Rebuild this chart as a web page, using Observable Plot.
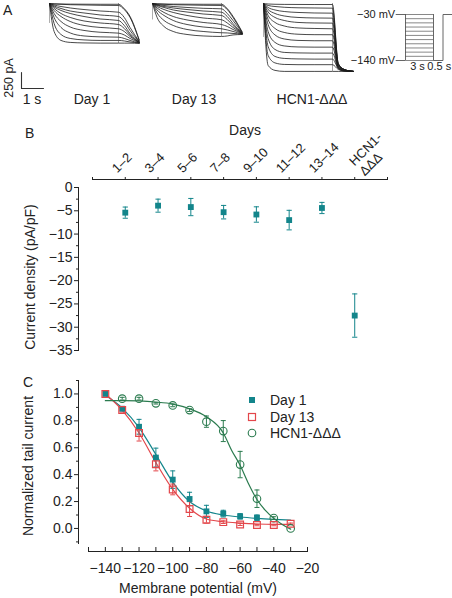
<!DOCTYPE html>
<html><head><meta charset="utf-8">
<script src="https://cdn.jsdelivr.net/npm/d3@7"></script>
<script src="https://cdn.jsdelivr.net/npm/@observablehq/plot@0.6"></script>
<style>
body{margin:0;background:#fff;}
#fig{position:relative;width:452px;height:598px;overflow:hidden;font-family:"Liberation Sans",Arial,Helvetica,sans-serif;}
</style></head><body><div id="fig"></div>
<script>
// ---------------- Panel A: current traces (pA) sampled at traceTimes (s) ----------------
const traceTimes = [0, 0.2, 0.5, 0.9, 1.5, 2.2, 3.0, 3.25, 3.5, 3.9];
const day1Traces = [
  [0,-5,-8,-10,-11,-12,-12,-80,-200,-570],
  [0,-8,-12,-19,-23,-28,-31,-94,-218,-577],
  [0,-23,-47,-70,-94,-117,-136,-218,-374,-593],
  [0,-39,-78,-117,-148,-179,-203,-281,-421,-593],
  [0,-55,-109,-156,-203,-242,-265,-343,-468,-601],
  [0,-78,-156,-218,-273,-304,-328,-390,-491,-608],
  [0,-109,-203,-281,-343,-374,-395,-437,-515,-608],
  [0,-156,-281,-367,-421,-449,-463,-491,-546,-608],
  [0,-218,-374,-460,-507,-521,-526,-546,-577,-616],
  [0,-312,-484,-546,-569,-577,-577,-585,-601,-616],
  [0,-437,-577,-608,-616,-619,-619,-619,-619,-624]
];
const day13Traces = [
  [0,-5,-8,-10,-11,-12,-12,-80,-200,-445],
  [0,-8,-12,-19,-23,-28,-31,-94,-218,-452],
  [0,-16,-31,-47,-62,-75,-83,-156,-265,-460],
  [0,-23,-47,-70,-94,-117,-136,-203,-312,-468],
  [0,-31,-62,-101,-133,-164,-187,-250,-343,-468],
  [0,-47,-94,-140,-187,-226,-254,-304,-374,-468],
  [0,-70,-140,-203,-257,-296,-328,-359,-406,-468],
  [0,-101,-187,-265,-328,-367,-395,-413,-437,-476],
  [0,-148,-265,-343,-406,-437,-457,-460,-468,-476],
  [0,-218,-359,-437,-484,-507,-515,-507,-491,-484]
];
const hcnTraces = [
  [0,-8,-12,-14,-15,-16,-16,-936,-1030,-1061],
  [0,-31,-47,-59,-67,-70,-73,-936,-1030,-1061],
  [0,-62,-101,-125,-140,-148,-151,-952,-1030,-1061],
  [0,-94,-156,-195,-218,-226,-229,-952,-1030,-1061],
  [0,-133,-218,-265,-296,-304,-307,-967,-1030,-1061],
  [0,-187,-296,-351,-382,-390,-395,-983,-1037,-1061],
  [0,-250,-390,-452,-480,-487,-488,-983,-1045,-1061],
  [0,-328,-491,-554,-577,-582,-582,-998,-1045,-1061],
  [0,-437,-608,-663,-679,-682,-682,-998,-1045,-1061],
  [0,-546,-718,-764,-772,-775,-775,-1014,-1053,-1061],
  [0,-671,-827,-858,-866,-869,-869,-1014,-1053,-1061],
  [0,-811,-928,-952,-956,-956,-956,-1030,-1053,-1061],
  [0,-967,-1045,-1061,-1061,-1061,-1061,-1061,-1061,-1061]
];
const traceLabels = ["Day 1", "Day 13", "HCN1-ΔΔΔ"];
const scaleBarCurrent = 250;   // pA
const scaleBarTime = 1;        // s
// voltage protocol
const protocolLevels = [-30,-40,-50,-60,-70,-80,-90,-100,-110,-120,-130,-140];
const holdingPotential = -30, tailPotential = -140;
const stepDuration = 3, tailDuration = 0.5, protocolLead = 1, protocolTrail = 0.5;

// ---------------- Panel B: current density ----------------
const dayGroups = ["1–2","3–4","5–6","7–8","9–10","11–12","13–14","HCN1-\nΔΔΔ"];
const densityMean = [-5.4,-3.9,-4.2,-5.3,-5.8,-7.0,-4.4,-27.5];
const densitySem  = [1.2,1.4,1.85,1.45,1.65,2.1,1.2,4.65];
const densityTicks = [0,-5,-10,-15,-20,-25,-30,-35];
const densityMinorTicks = [-2.5,-7.5,-12.5,-17.5,-22.5,-27.5,-32.5];

// ---------------- Panel C: activation curves ----------------
const membranePotentials = [-140,-130,-120,-110,-100,-90,-80,-70,-60,-50,-40,-30];
const day1Tail  = [1.0,0.89,0.756,0.527,0.363,0.219,0.127,0.11,0.09,0.08,null,null];
const day1Err   = [0,0.01,0.055,0.07,0.065,0.05,0.045,0.025,0.02,0.02,null,null];
const day13Tail = [1.0,0.88,0.71,0.478,0.29,0.144,0.065,0.047,0.03,0.025,0.025,0.035];
const day13Err  = [0,0.015,0.06,0.05,0.04,0.055,0.025,0.01,0.008,0.005,0.005,0.005];
const hcnTail   = [null,0.965,0.965,0.93,0.915,0.88,0.794,0.724,0.475,0.221,0.077,0.0];
const hcnErr    = [null,0.01,0.01,0.005,0.01,0.01,0.042,0.078,0.098,0.065,0.01,0];
const day1Fit  = [0.99,0.895,0.75,0.55,0.345,0.2,0.13,0.1,0.085,0.075,0.068,0.063];
const day13Fit = [1.0,0.88,0.71,0.49,0.29,0.15,0.07,0.05,0.04,0.033,0.03,0.03];
const hcnFitPotentials = [-140,-130,-120,-110,-100,-90,-80,-70,-65,-60,-55,-50,-45,-40,-35,-30];
const hcnFit = [0.95,0.95,0.948,0.94,0.925,0.89,0.83,0.71,0.58,0.47,0.333,0.215,0.134,0.075,0.03,-0.005];
const potentialTicks = [-140,-120,-100,-80,-60,-40,-20];
const potentialMinorTicks = [-150,-140,-130,-120,-110,-100,-90,-80,-70,-60,-50,-40,-30,-20];
const tailTicks = [0,0.2,0.4,0.6,0.8,1.0];
const tailMinorTicks = [-0.1,0.1,0.3,0.5,0.7,0.9,1.1];
const seriesNames = ["Day 1", "Day 13", "HCN1-ΔΔΔ"];

// ---------------- styling ----------------
const FONT = '"Liberation Sans", Arial, Helvetica, sans-serif';
const INK = "#222";
const TEAL = "#13858b", RED = "#e3474b", GREEN = "#2b7b4f", TRACE = "#1c1c1c", PROTO = "#555";
const fig = document.getElementById("fig");
const baseStyle = {fontFamily: FONT, fontSize: "14px", color: INK, background: "transparent", overflow: "visible"};
function place(node, left, top) {
  node.style.position = "absolute"; node.style.left = left + "px"; node.style.top = top + "px";
  fig.appendChild(node); return node;
}
const capSymbol = {draw(ctx, size) { const w = Math.sqrt(size / Math.PI); ctx.moveTo(-w, 0); ctx.lineTo(w, 0); }};

// ---------------- Panel A plots ----------------
const PX_PER_S = 23, PX_PER_PA = 16 / 250;
function tracePlot(traces) {
  const rows = traces.flatMap((tr, k) => tr.map((I, i) => ({t: traceTimes[i], I, k})));
  const deepest = d3.min(rows, d => d.I);
  return Plot.plot({
    width: 96, height: 78, margin: 0, style: baseStyle,
    x: {domain: [0, 4.2], range: [0, 4.2 * PX_PER_S], axis: null},
    y: {domain: [-1100, 0], range: [3 + 1100 * PX_PER_PA, 3], axis: null},
    marks: [
      Plot.ruleX([stepDuration], {y1: 0, y2: deepest, stroke: "#777", strokeWidth: 0.7}),
      Plot.ruleX([0], {y1: 0, y2: deepest * 0.5, stroke: "#777", strokeWidth: 0.6}),
      Plot.line(rows, {x: "t", y: "I", z: "k", curve: "monotone-x", stroke: TRACE, strokeWidth: 0.8})
    ]
  });
}
place(tracePlot(day1Traces), 49, 0);
place(tracePlot(day13Traces), 152, 0);
place(tracePlot(hcnTraces), 263, 0);

// scale bar
place(Plot.plot({
  width: 30, height: 22, margin: 0, style: baseStyle,
  x: {domain: [0, scaleBarTime], range: [0, scaleBarTime * PX_PER_S - 1], axis: null},
  y: {domain: [0, scaleBarCurrent], range: [18, 18 - scaleBarCurrent * PX_PER_PA], axis: null},
  marks: [
    Plot.line([[0, scaleBarCurrent], [0, 0], [scaleBarTime, 0]], {stroke: "#333", strokeWidth: 1.1})
  ]
}), 21, 70);

// voltage protocol: step family (one plot) and tail (second plot, its own time scale)
const protoY = {domain: [tailPotential, holdingPotential], range: [60, 14], axis: null};
place(Plot.plot({
  width: 452, height: 80, margin: 0, style: baseStyle,
  x: {domain: [-protocolLead, stepDuration], range: [395.7, 433], axis: null},
  y: protoY,
  marks: [
    Plot.ruleY(protocolLevels, {y: d => d, x1: 0, x2: stepDuration, stroke: PROTO, strokeWidth: 0.7}),
    Plot.ruleX([0, stepDuration], {y1: tailPotential, y2: holdingPotential, stroke: PROTO, strokeWidth: 0.9}),
    Plot.ruleY([holdingPotential, tailPotential], {y: d => d, x1: -protocolLead, x2: 0, stroke: PROTO, strokeWidth: 0.9}),
    Plot.text([holdingPotential, tailPotential], {x: -protocolLead, y: d => d, text: d => `−${Math.abs(d)} mV`,
      textAnchor: "end", dx: -1, fontSize: 11, fill: INK}),
    Plot.text([stepDuration / 2], {x: d => d, y: tailPotential, text: d => `${stepDuration} s`, lineAnchor: "top", dy: 2, dx: -2, fontSize: 11, fill: INK})
  ]
}), 0, 0);
const tEnd = stepDuration + tailDuration;
place(Plot.plot({
  width: 452, height: 80, margin: 0, style: baseStyle,
  x: {domain: [stepDuration, tEnd + protocolTrail], range: [433, 452], axis: null},
  y: protoY,
  marks: [
    Plot.line([[stepDuration, tailPotential], [tEnd, tailPotential], [tEnd, holdingPotential], [tEnd + protocolTrail, holdingPotential]],
      {stroke: PROTO, strokeWidth: 0.9}),
    Plot.text([stepDuration + tailDuration / 2], {x: d => d, y: tailPotential, text: d => `${tailDuration} s`, lineAnchor: "top", dy: 2, dx: 1, fontSize: 11, fill: INK})
  ]
}), 0, 0);

// ---------------- Panel B ----------------
const bRows = dayGroups.map((g, i) => ({pos: i + 1, g, m: densityMean[i], e: densitySem[i]}));
place(Plot.plot({
  width: 452, height: 245, marginTop: 59, marginBottom: 15, marginLeft: 78, marginRight: 65,
  insetLeft: 14, insetTop: 8, style: baseStyle,
  x: {domain: [0, dayGroups.length + 1]},
  y: {domain: [-35, 0]},
  marks: [
    Plot.frame({anchor: "top", insetLeft: 14, stroke: INK, strokeWidth: 1}),
    Plot.frame({anchor: "left", insetTop: 8, stroke: INK, strokeWidth: 1}),
    Plot.axisX({anchor: "top", ticks: d3.range(0, dayGroups.length + 2), tickSize: 3, tickFormat: () => "", label: null}),
    Plot.axisY({anchor: "left", ticks: densityTicks, tickSize: 4, tickPadding: 2, label: null, fontSize: 14}),
    Plot.axisY({anchor: "left", ticks: densityMinorTicks, tickSize: 2, tickFormat: () => "", label: null}),
    Plot.text(bRows.slice(0, -1), {x: "pos", text: "g", frameAnchor: "top", rotate: -45, textAnchor: "start",
      lineAnchor: "bottom", dx: -8, dy: -6, fontSize: 13, fill: INK}),
    Plot.text(bRows.slice(-1), {x: "pos", text: "g", frameAnchor: "top", rotate: -45, textAnchor: "start",
      lineAnchor: "bottom", lineHeight: 1.1, dx: 10, dy: -3, fontSize: 13, fill: INK}),
    Plot.ruleX(bRows, {x: "pos", y1: d => d.m - d.e, y2: d => d.m + d.e, stroke: TEAL, strokeWidth: 1}),
    Plot.dot(bRows, {x: "pos", y: d => d.m - d.e, symbol: capSymbol, r: 2.6, stroke: TEAL, fill: "none", strokeWidth: 1}),
    Plot.dot(bRows, {x: "pos", y: d => d.m + d.e, symbol: capSymbol, r: 2.6, stroke: TEAL, fill: "none", strokeWidth: 1}),
    Plot.dot(bRows, {x: "pos", y: "m", symbol: "square", r: 3.3, fill: TEAL, stroke: "none"})
  ]
}), 0, 120);

// ---------------- Panel C ----------------
function rowsOf(vals, errs) {
  return membranePotentials.map((v, i) => ({v, y: vals[i], e: errs[i]})).filter(d => d.y != null);
}
const d1 = rowsOf(day1Tail, day1Err), d13 = rowsOf(day13Tail, day13Err), dh = rowsOf(hcnTail, hcnErr);
function errMarks(rows, color) {
  const shown = rows.filter(d => d.e > 0.004);
  return [
    Plot.ruleX(shown, {x: "v", y1: d => d.y - d.e, y2: d => d.y + d.e, stroke: color, strokeWidth: 1}),
    Plot.dot(shown, {x: "v", y: d => d.y - d.e, symbol: capSymbol, r: 2.5, stroke: color, fill: "none", strokeWidth: 1}),
    Plot.dot(shown, {x: "v", y: d => d.y + d.e, symbol: capSymbol, r: 2.5, stroke: color, fill: "none", strokeWidth: 1})
  ];
}
place(Plot.plot({
  width: 452, height: 228, marginTop: 10, marginBottom: 47, marginLeft: 78, marginRight: 145,
  insetLeft: 10, insetBottom: 9.6, style: baseStyle,
  x: {domain: [-150, -20]},
  y: {domain: [-0.1, 1.1]},
  marks: [
    Plot.frame({anchor: "bottom", insetLeft: 10, stroke: INK, strokeWidth: 1}),
    Plot.frame({anchor: "left", insetBottom: 8, stroke: INK, strokeWidth: 1}),
    Plot.ruleX(potentialMinorTicks, {x: d => d, insetTop: 167, stroke: INK, strokeWidth: 1}),
    Plot.axisX({anchor: "bottom", ticks: potentialTicks, tickSize: 0, tickPadding: 12, label: null, fontSize: 14}),
    Plot.axisY({anchor: "left", ticks: tailTicks, tickSize: 4, tickPadding: 2, tickFormat: d3.format(".1f"), label: null, fontSize: 14}),
    Plot.axisY({anchor: "left", ticks: tailMinorTicks, tickSize: 2, tickFormat: () => "", label: null}),
    Plot.line(membranePotentials.map((v, i) => ({v, y: day1Fit[i]})), {x: "v", y: "y", stroke: TEAL, strokeWidth: 1.2, curve: "monotone-x"}),
    Plot.line(membranePotentials.map((v, i) => ({v, y: day13Fit[i]})), {x: "v", y: "y", stroke: RED, strokeWidth: 1.2, curve: "monotone-x"}),
    Plot.line(hcnFitPotentials.map((v, i) => ({v, y: hcnFit[i]})), {x: "v", y: "y", stroke: GREEN, strokeWidth: 1.2, curve: "monotone-x"}),
    ...errMarks(dh, GREEN),
    ...errMarks(d1, TEAL),
    ...errMarks(d13, RED),
    Plot.dot(dh, {x: "v", y: "y", r: 3.8, stroke: GREEN, fill: "none", strokeWidth: 1.1}),
    Plot.dot(d1, {x: "v", y: "y", symbol: "square", r: 3.3, fill: TEAL, stroke: "none"}),
    Plot.dot(d13, {x: "v", y: "y", symbol: "square", r: 3.8, stroke: RED, fill: "none", strokeWidth: 1.2})
  ]
}), 0, 370);

// ---------------- annotations & legend ----------------
const ov = d3.create("svg").attr("width", 452).attr("height", 598)
  .style("position", "absolute").style("left", "0px").style("top", "0px").style("pointer-events", "none")
  .style("font-family", FONT).style("fill", INK);
function label(txt, x, y, size, anchor = "start", rotate = 0) {
  ov.append("text").attr("transform", `translate(${x},${y}) rotate(${rotate})`)
    .attr("text-anchor", anchor).attr("font-size", size).attr("fill", INK).text(txt);
}
label("A", 3, 15, 14);
label(traceLabels[0], 92, 104, 14, "middle");
label(traceLabels[1], 194, 104, 14, "middle");
label(traceLabels[2], 312, 104, 14, "middle");
label(`${scaleBarTime} s`, 32, 104, 14, "middle");
label(`${scaleBarCurrent} pA`, 13, 78, 12.5, "middle", -90);
label("B", 25, 138, 14);
label("Days", 245, 135, 14, "middle");
label("Current density (pA/pF)", 35, 277, 14, "middle", -90);
label("C", 23, 387, 14);
label("Normalized tail current", 33, 466, 14, "middle", -90);
label("Membrane potential (mV)", 198, 593, 14, "middle");
// legend
const legendY = [400, 417, 433];
seriesNames.forEach((name, i) => {
  const y = legendY[i];
  if (i === 0) ov.append("rect").attr("x", 249).attr("y", y - 3).attr("width", 6).attr("height", 6).attr("fill", TEAL);
  if (i === 1) ov.append("rect").attr("x", 248.5).attr("y", y - 3.5).attr("width", 7).attr("height", 7).attr("fill", "none").attr("stroke", RED).attr("stroke-width", 1.2);
  if (i === 2) ov.append("circle").attr("cx", 252).attr("cy", y).attr("r", 3.8).attr("fill", "none").attr("stroke", GREEN).attr("stroke-width", 1.1);
  label(name, 270, y + 5, 14);
});
fig.appendChild(ov.node());
</script></body></html>
